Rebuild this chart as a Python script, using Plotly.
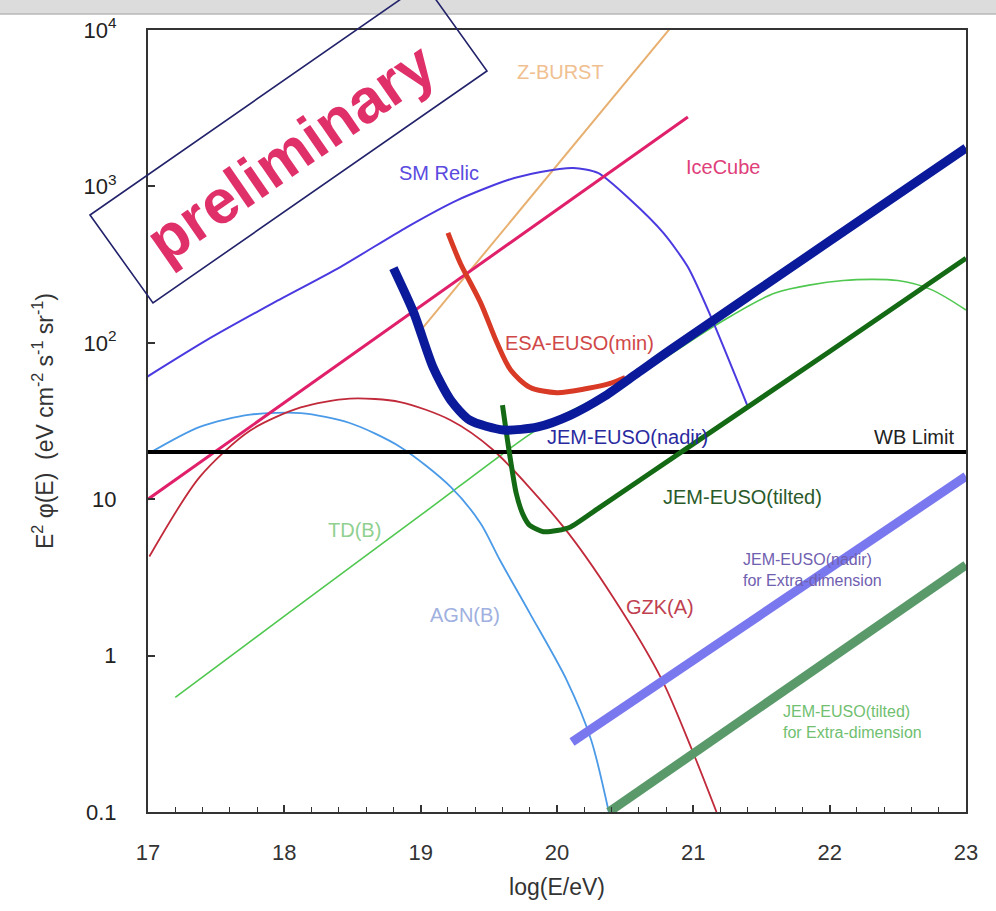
import plotly.graph_objects as go

# ---------------- data ----------------
icecube_x = [17.0, 20.96]
icecube_y = [10.0, 2780.0]

zburst_x = [19.02, 21.0]
zburst_y = [126.0, 15500.0]

sm_relic_x = [16.99, 17.43, 17.92, 18.41, 18.90, 19.27, 19.64, 19.88, 20.12, 20.30, 20.54, 20.78, 20.96, 21.13, 21.40]
sm_relic_y = [60.4, 104.0, 180.0, 305.0, 550.0, 818.0, 1099.0, 1236.0, 1312.0, 1219.0, 818.0, 504.0, 305.0, 146.0, 39.0]

esa_x = [19.20, 19.29, 19.44, 19.56, 19.66, 19.80, 20.00, 20.22, 20.39, 20.50]
esa_y = [504.0, 324.0, 180.0, 100.0, 67.0, 52.0, 48.0, 51.0, 55.0, 60.0]

nadir_x = [18.80, 18.95, 19.09, 19.22, 19.36, 19.61, 19.86, 20.10, 20.34, 20.59, 20.83, 22.0, 23.0]
nadir_y = [300.0, 155.0, 70.0, 43.0, 32.0, 27.7, 29.0, 34.5, 45.0, 64.0, 90.0, 447.0, 1760.0]

tilted_x = [19.60, 19.65, 19.70, 19.75, 19.80, 19.90, 20.00, 20.10, 20.30, 21.0, 22.0, 23.0]
tilted_y = [40.0, 20.0, 11.0, 8.0, 6.8, 6.2, 6.3, 6.65, 8.7, 22.6, 88.0, 347.0]

td_x = [17.2, 18.0, 19.0, 19.8, 20.0, 20.5, 21.16, 21.6, 22.1, 22.5, 22.75, 23.0]
td_y = [0.54, 1.79, 7.9, 26.0, 33.0, 55.0, 129.0, 208.0, 250.0, 250.0, 218.0, 162.0]

agn_x = [17.01, 17.38, 17.75, 18.12, 18.48, 18.85, 19.22, 19.44, 19.58, 19.80, 20.07, 20.25, 20.38]
agn_y = [19.7, 29.0, 34.7, 35.5, 30.7, 21.6, 12.0, 7.0, 4.1, 1.87, 0.70, 0.29, 0.10]

gzk_x = [17.01, 17.38, 17.75, 18.12, 18.48, 18.85, 19.22, 19.53, 20.05, 20.41, 20.77, 20.99, 21.17]
gzk_y = [4.3, 13.9, 27.5, 38.6, 44.0, 41.8, 32.0, 20.7, 6.6, 2.37, 0.70, 0.25, 0.10]

wb_x = [17.0, 23.0]
wb_y = [20.0, 20.0]

xd_nadir_x = [20.11, 23.0]
xd_nadir_y = [0.28, 14.0]

xd_tilted_x = [20.38, 23.0]
xd_tilted_y = [0.10, 3.8]

x_ticks = [17, 18, 19, 20, 21, 22, 23]
y_tickvals = [0.1, 1, 10, 100, 1000, 10000]
y_ticktext = ["0.1", "1", "10", "10<sup>2</sup>", "10<sup>3</sup>", "10<sup>4</sup>"]

# ---------------- layout geometry ----------------
W, H = 996, 911
ML, MR, MT, MB = 148, 30, 30, 99
PW, PH = W - ML - MR, H - MT - MB


def px(xp):
    return (xp - ML) / PW


def py(yp):
    return (H - MB - yp) / PH


FONT = "Liberation Sans, Arial, sans-serif"

fig = go.Figure()


def add(x, y, color, width, shape="spline", smoothing=0.8):
    line = dict(color=color, width=width, shape=shape)
    if shape == "spline":
        line["smoothing"] = smoothing
    fig.add_trace(go.Scatter(x=x, y=y, mode="lines", line=line,
                             showlegend=False, hoverinfo="skip", cliponaxis=True))


add(zburst_x, zburst_y, "#e8b070", 2, "linear")
add(td_x, td_y, "#50c850", 1.6)
add(agn_x, agn_y, "#4a9ae8", 1.8)
add(gzk_x, gzk_y, "#c02a3a", 1.8)
add(sm_relic_x, sm_relic_y, "#4a3ae0", 2, "spline", 0.7)
add(icecube_x, icecube_y, "#e0206a", 3, "linear")
add(wb_x, wb_y, "#000000", 4, "linear")
add(esa_x, esa_y, "#d83a25", 5)
add(tilted_x, tilted_y, "#146a14", 5, "spline", 0.6)
add(nadir_x, nadir_y, "#0a1a9a", 9, "spline", 0.7)
add(xd_nadir_x, xd_nadir_y, "#7a78ee", 9, "linear")
add(xd_tilted_x, xd_tilted_y, "#5a9a6a", 9, "linear")

annotations = []


def label(text, cx, cy, color, size=20, xanchor="center", align="center"):
    annotations.append(dict(text=text, x=px(cx), y=py(cy), xref="paper", yref="paper",
                            showarrow=False, xanchor=xanchor, yanchor="middle", align=align,
                            font=dict(family=FONT, size=size, color=color)))


label("SM Relic", 439, 173, "#5a4ae0")
label("IceCube", 723, 167, "#e0407a")
label("Z-BURST", 560, 72, "#f0c090")
label("ESA-EUSO(min)", 579, 343, "#d04848")
label("JEM-EUSO(nadir)", 627, 437, "#2a2aa0")
label("WB Limit", 914, 437, "#222222")
label("JEM-EUSO(tilted)", 742, 497, "#2a5a2a")
label("TD(B)", 354, 530, "#90d090")
label("AGN(B)", 465, 615, "#a0b0e0")
label("GZK(A)", 660, 607, "#c04050")
label("JEM-EUSO(nadir)<br>for Extra-dimension", 741, 570, "#7060b0", 16, "left", "left")
label("JEM-EUSO(tilted)<br>for Extra-dimension", 781, 722, "#70c070", 16, "left", "left")

# "preliminary" stamp
annotations.append(dict(text="<b>preliminary</b>", x=px(290), y=py(152), xref="paper", yref="paper",
                        showarrow=False, textangle=-34.7, xanchor="center", yanchor="middle",
                        font=dict(family=FONT, size=62, color="#e0306a")))

box = [(90, 215), (153, 303), (487, 71), (424, -17)]
path = "M " + " L ".join(f"{px(a):.4f},{py(b):.4f}" for a, b in box) + " Z"

shapes = [
    # grey strip at the top of the photographed slide
    dict(type="rect", xref="paper", yref="paper", x0=px(-5), x1=px(W + 5), y0=py(14), y1=py(-5),
         fillcolor="#dcdcdc", line=dict(width=0), layer="below"),
    dict(type="line", xref="paper", yref="paper", x0=px(-5), x1=px(W + 5), y0=py(14), y1=py(14),
         line=dict(color="#b8b8b8", width=1.5)),
    dict(type="path", xref="paper", yref="paper", path=path,
         line=dict(color="#22226a", width=1.6), fillcolor="rgba(0,0,0,0)"),
]

fig.update_layout(
    width=W, height=H,
    margin=dict(l=ML, r=MR, t=MT, b=MB, pad=0),
    paper_bgcolor="white", plot_bgcolor="white",
    showlegend=False,
    annotations=annotations,
    shapes=shapes,
    xaxis=dict(
        range=[17, 23], tickvals=x_ticks, ticktext=[str(v) for v in x_ticks],
        showgrid=False, zeroline=False,
        showline=True, mirror=True, linecolor="#333333", linewidth=2,
        ticks="inside", ticklen=7, tickwidth=1.5, tickcolor="#333333",
        minor=dict(dtick=0.2, ticks="inside", ticklen=5, tickwidth=1.2, tickcolor="#333333"),
        tickfont=dict(family=FONT, size=22, color="#333333"),
        ticklabelstandoff=20,
        title=dict(text="log(E/eV)", font=dict(family=FONT, size=23, color="#333333"), standoff=14),
    ),
    yaxis=dict(
        type="log", range=[-1, 4], tickvals=y_tickvals, ticktext=y_ticktext,
        showgrid=False, zeroline=False,
        showline=True, mirror=True, linecolor="#333333", linewidth=2,
        ticks="inside", ticklen=7, tickwidth=1.5, tickcolor="#333333",
        tickfont=dict(family=FONT, size=22, color="#222222"),
        ticklabelstandoff=25,
        title=dict(text="E<sup>2</sup> φ(E)  (eV cm<sup>-2</sup> s<sup>-1</sup> sr<sup>-1</sup>)",
                   font=dict(family=FONT, size=23, color="#333333"), standoff=24),
    ),
)

fig.write_html("out.html")
